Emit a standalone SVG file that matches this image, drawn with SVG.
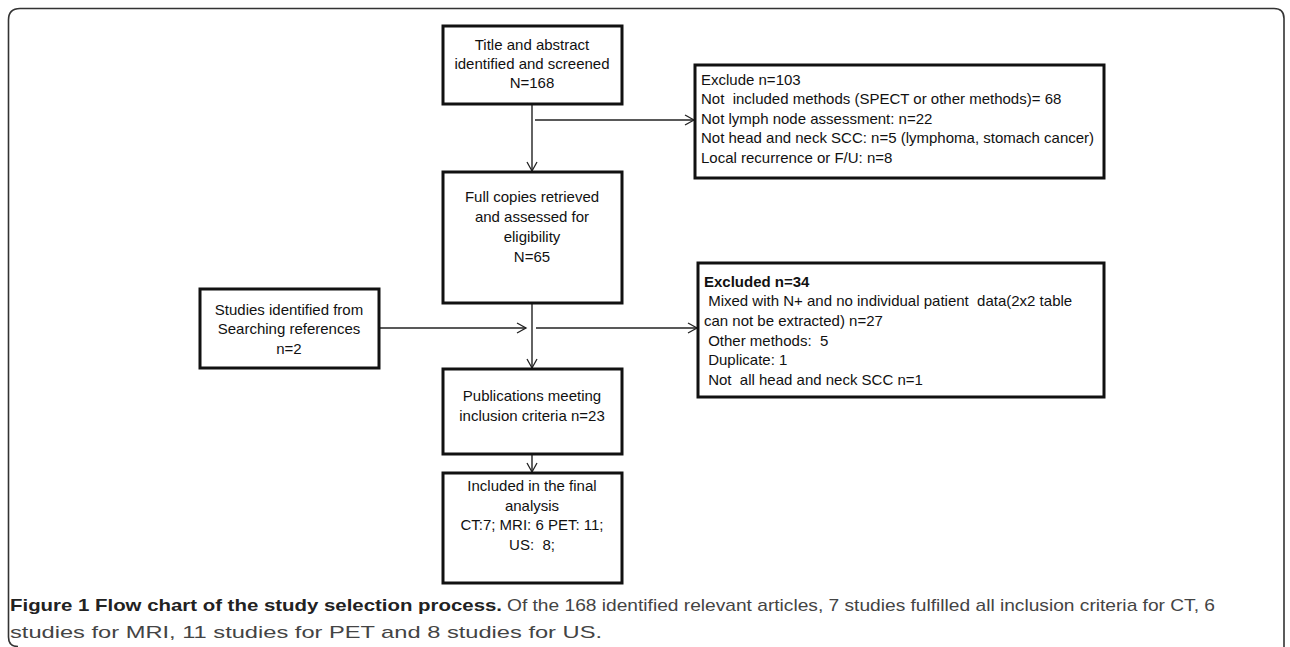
<svg xmlns="http://www.w3.org/2000/svg" width="1290" height="647" viewBox="0 0 1290 647">
<style>
.box{fill:#fff;stroke:#111;stroke-width:3}
.t{font-family:"Liberation Sans",Arial,sans-serif;font-size:15px;fill:#111;white-space:pre}
.c{text-anchor:middle}
.b{font-weight:bold}
.con{stroke:#222;stroke-width:1.4;fill:none;marker-end:url(#ah)}
.cap{font-family:"Liberation Sans",Arial,sans-serif;font-size:17px}
</style>
<defs>
<marker id="ah" markerWidth="12" markerHeight="12" refX="10" refY="6" orient="auto" markerUnits="userSpaceOnUse">
<path d="M1,1 L10,6 L1,11" fill="none" stroke="#222" stroke-width="1.3"/>
</marker>
</defs>
<rect width="1290" height="647" fill="#fff"/>
<path d="M18,646.5 Q8.5,646.5 8.5,637 L8.5,20 Q8.5,8.5 20,8.5 L1274,8.5 Q1284,8.5 1284,18.5 L1284,647" fill="none" stroke="#333" stroke-width="1.6"/>

<g id="connectors">
<line class="con" x1="532" y1="104" x2="532" y2="171"/>
<line class="con" x1="535" y1="120" x2="694" y2="120"/>
<line class="con" x1="379" y1="328" x2="526" y2="328"/>
<line class="con" x1="532" y1="303" x2="532" y2="368"/>
<line class="con" x1="536" y1="328" x2="697" y2="328"/>
<line class="con" x1="532" y1="454" x2="532" y2="472"/>
</g>

<g id="n-title">
<rect class="box" x="443" y="26" width="179" height="78"/>
<text class="t c" x="532" y="50">Title and abstract</text>
<text class="t c" x="532" y="69">identified and screened</text>
<text class="t c" x="532" y="88">N=168</text>
</g>

<g id="n-exclude">
<rect class="box" x="695" y="65" width="409" height="113"/>
<text class="t" x="701" y="85">Exclude n=103</text>
<text class="t" x="701" y="104">Not  included methods (SPECT or other methods)= 68</text>
<text class="t" x="701" y="124">Not lymph node assessment: n=22</text>
<text class="t" x="701" y="143">Not head and neck SCC: n=5 (lymphoma, stomach cancer)</text>
<text class="t" x="701" y="163">Local recurrence or F/U: n=8</text>
</g>

<g id="n-full">
<rect class="box" x="443" y="172" width="179" height="131"/>
<text class="t c" x="532" y="202">Full copies retrieved</text>
<text class="t c" x="532" y="222">and assessed for</text>
<text class="t c" x="532" y="242">eligibility</text>
<text class="t c" x="532" y="262">N=65</text>
</g>

<g id="n-studies">
<rect class="box" x="200" y="289" width="179" height="79"/>
<text class="t c" x="289" y="315">Studies identified from</text>
<text class="t c" x="289" y="334">Searching references</text>
<text class="t c" x="289" y="354">n=2</text>
</g>

<g id="n-excluded">
<rect class="box" x="698" y="263" width="406" height="134"/>
<text class="t b" x="704" y="287">Excluded n=34</text>
<text class="t" x="704" y="306"> Mixed with N+ and no individual patient  data(2x2 table</text>
<text class="t" x="704" y="326">can not be extracted) n=27</text>
<text class="t" x="704" y="346"> Other methods:  5</text>
<text class="t" x="704" y="365"> Duplicate: 1</text>
<text class="t" x="704" y="385"> Not  all head and neck SCC n=1</text>
</g>

<g id="n-publications">
<rect class="box" x="443" y="369" width="179" height="85"/>
<text class="t c" x="532" y="401">Publications meeting</text>
<text class="t c" x="532" y="421">inclusion criteria n=23</text>
</g>

<g id="n-included">
<rect class="box" x="443" y="473" width="179" height="110"/>
<text class="t c" x="532" y="491">Included in the final</text>
<text class="t c" x="532" y="511">analysis</text>
<text class="t c" x="532" y="530">CT:7; MRI: 6 PET: 11;</text>
<text class="t c" x="532" y="550">US:  8;</text>
</g>

<g id="caption">
<text class="cap" x="10" y="611" font-weight="bold" fill="#222" textLength="492" lengthAdjust="spacingAndGlyphs">Figure 1 Flow chart of the study selection process.</text>
<text class="cap" x="507" y="611" fill="#444" textLength="708" lengthAdjust="spacingAndGlyphs">Of the 168 identified relevant articles, 7 studies fulfilled all inclusion criteria for CT, 6</text>
<text class="cap" x="10" y="638" fill="#444" textLength="592" lengthAdjust="spacingAndGlyphs">studies for MRI, 11 studies for PET and 8 studies for US.</text>
</g>
</svg>
